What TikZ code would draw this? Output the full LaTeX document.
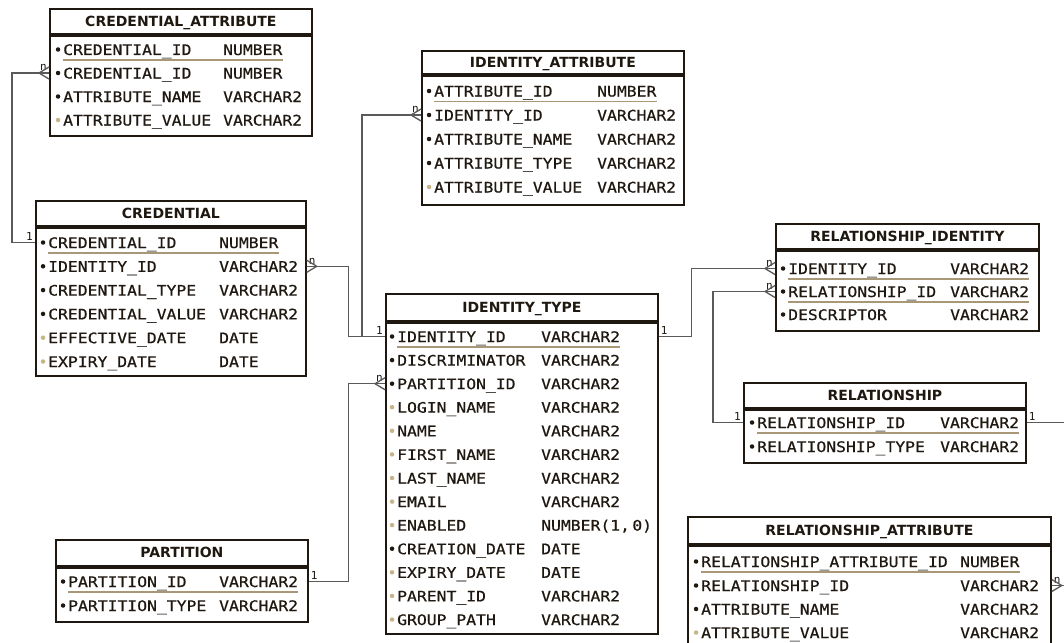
\documentclass[tikz,border=0pt]{standalone}
\usepackage{fontspec}
\newfontfamily\fieldfont[FakeStretch=1.13,FakeBold=0.6]{DejaVu Sans Mono}
\newfontfamily\cardfont{DejaVu Sans Mono}
\newfontfamily\titlefont{DejaVu Sans}
\usepackage{tikz}
\usetikzlibrary{positioning}

\definecolor{ink}{HTML}{1E1810}
\definecolor{pkline}{HTML}{A89878}
\definecolor{optdot}{HTML}{C8B488}
\definecolor{wire}{HTML}{5A5A5A}

\tikzset{
	ttl/.style={draw=ink, line width=1.8pt, fill=white, anchor=north west, minimum height=25pt,
		inner sep=0pt, text=ink, font=\titlefont\bfseries\fontsize{14}{14}\selectfont,
		text height=10pt, text depth=0pt},
	bdy/.style={draw=ink, line width=1.8pt, fill=white, inner sep=0pt},
	fld/.style={anchor=base west, inner sep=0pt, text height=11pt, text depth=0pt, text=ink,
		font=\fieldfont\fontsize{14.5}{14.5}\selectfont},
	fm/.style={fld, label={[circle, fill=ink, inner sep=0pt, minimum size=4.5pt, label distance=2.5pt]left:{}}},
	fo/.style={fld, label={[circle, fill=optdot, inner sep=0pt, minimum size=4.5pt, label distance=2.5pt]left:{}}},
	pk/.style={draw=pkline, line width=1.4pt},
	link/.style={draw=wire, line width=1.3pt},
	card/.style={inner sep=1.5pt, text=ink, font=\cardfont\fontsize{11}{11}\selectfont},
	crow/.pic={\draw [link] (-10,0) -- (0,-6) (-10,0) -- (0,6);}
}

\begin{document}
\begin{tikzpicture}[x=1pt,y=-1pt]
	\clip (0,0) rectangle (1064,642);
	\fill [white] (0,0) rectangle (1064,642);

	% CREDENTIAL_ATTRIBUTE
	\node [ttl, minimum width=262pt] (cattr) at (49,8) {CREDENTIAL\_ATTRIBUTE};
	\node [bdy, minimum width=262pt, minimum height=100pt, below=0pt of cattr] (cattr-b) {};
	\node [fm] (cattr-1) at (63,55) {\makebox[160pt][l]{CREDENTIAL\_ID}NUMBER};
	\node [fm] (cattr-2) at (63,78.5) {\makebox[160pt][l]{CREDENTIAL\_ID}NUMBER};
	\node [fm] (cattr-3) at (63,102) {\makebox[160pt][l]{ATTRIBUTE\_NAME}VARCHAR2};
	\node [fo] (cattr-4) at (63,125.5) {\makebox[160pt][l]{ATTRIBUTE\_VALUE}VARCHAR2};
	\draw [pk] ([yshift=-5pt]cattr-1.base west) -- ([yshift=-5pt]cattr-1.base east);

	% CREDENTIAL
	\node [ttl, minimum width=270pt] (cred) at (35,200) {CREDENTIAL};
	\node [bdy, minimum width=270pt, minimum height=148pt, below=0pt of cred] (cred-b) {};
	\node [fm] (cred-1) at (48,248) {\makebox[171pt][l]{CREDENTIAL\_ID}NUMBER};
	\node [fm] (cred-2) at (48,271.8) {\makebox[171pt][l]{IDENTITY\_ID}VARCHAR2};
	\node [fm] (cred-3) at (48,295.6) {\makebox[171pt][l]{CREDENTIAL\_TYPE}VARCHAR2};
	\node [fm] (cred-4) at (48,319.4) {\makebox[171pt][l]{CREDENTIAL\_VALUE}VARCHAR2};
	\node [fo] (cred-5) at (48,343.2) {\makebox[171pt][l]{EFFECTIVE\_DATE}DATE};
	\node [fo] (cred-6) at (48,367) {\makebox[171pt][l]{EXPIRY\_DATE}DATE};
	\draw [pk] ([yshift=-5pt]cred-1.base west) -- ([yshift=-5pt]cred-1.base east);

	% IDENTITY_ATTRIBUTE
	\node [ttl, minimum width=262pt, minimum height=23pt] (iattr) at (421,50) {IDENTITY\_ATTRIBUTE};
	\node [bdy, minimum width=262pt, minimum height=129pt, below=0pt of iattr] (iattr-b) {};
	\node [fm] (iattr-1) at (434,96.5) {\makebox[163pt][l]{ATTRIBUTE\_ID}NUMBER};
	\node [fm] (iattr-2) at (434,120.5) {\makebox[163pt][l]{IDENTITY\_ID}VARCHAR2};
	\node [fm] (iattr-3) at (434,144.5) {\makebox[163pt][l]{ATTRIBUTE\_NAME}VARCHAR2};
	\node [fm] (iattr-4) at (434,168.5) {\makebox[163pt][l]{ATTRIBUTE\_TYPE}VARCHAR2};
	\node [fo] (iattr-5) at (434,192.5) {\makebox[163pt][l]{ATTRIBUTE\_VALUE}VARCHAR2};
	\draw [pk] ([yshift=-5pt]iattr-1.base west) -- ([yshift=-5pt]iattr-1.base east);

	% IDENTITY_TYPE
	\node [ttl, minimum width=272pt, minimum height=27pt] (itype) at (385,293) {IDENTITY\_TYPE};
	\node [bdy, minimum width=272pt, minimum height=311pt, below=0pt of itype] (itype-b) {};
	\node [fm] (itype-1) at (397,342) {\makebox[144pt][l]{IDENTITY\_ID}VARCHAR2};
	\node [fm] (itype-2) at (397,365.6) {\makebox[144pt][l]{DISCRIMINATOR}VARCHAR2};
	\node [fm] (itype-3) at (397,389.2) {\makebox[144pt][l]{PARTITION\_ID}VARCHAR2};
	\node [fo] (itype-4) at (397,412.7) {\makebox[144pt][l]{LOGIN\_NAME}VARCHAR2};
	\node [fo] (itype-5) at (397,436.3) {\makebox[144pt][l]{NAME}VARCHAR2};
	\node [fo] (itype-6) at (397,459.9) {\makebox[144pt][l]{FIRST\_NAME}VARCHAR2};
	\node [fo] (itype-7) at (397,483.5) {\makebox[144pt][l]{LAST\_NAME}VARCHAR2};
	\node [fo] (itype-8) at (397,507.1) {\makebox[144pt][l]{EMAIL}VARCHAR2};
	\node [fo] (itype-9) at (397,530.6) {\makebox[144pt][l]{ENABLED}NUMBER(1,\,0)};
	\node [fm] (itype-10) at (397,554.2) {\makebox[144pt][l]{CREATION\_DATE}DATE};
	\node [fo] (itype-11) at (397,577.8) {\makebox[144pt][l]{EXPIRY\_DATE}DATE};
	\node [fo] (itype-12) at (397,601.4) {\makebox[144pt][l]{PARENT\_ID}VARCHAR2};
	\node [fo] (itype-13) at (397,625) {\makebox[144pt][l]{GROUP\_PATH}VARCHAR2};
	\draw [pk] ([yshift=-5pt]itype-1.base west) -- ([yshift=-5pt]itype-1.base east);

	% RELATIONSHIP_IDENTITY
	\node [ttl, minimum width=263pt] (rident) at (775,223) {RELATIONSHIP\_IDENTITY};
	\node [bdy, minimum width=263pt, minimum height=80pt, below=0pt of rident] (rident-b) {};
	\node [fm] (rident-1) at (788,274) {\makebox[162pt][l]{IDENTITY\_ID}VARCHAR2};
	\node [fm] (rident-2) at (788,297) {\makebox[162pt][l]{RELATIONSHIP\_ID}VARCHAR2};
	\node [fm] (rident-3) at (788,320) {\makebox[162pt][l]{DESCRIPTOR}VARCHAR2};
	\draw [pk] ([yshift=-5pt]rident-1.base west) -- ([yshift=-5pt]rident-1.base east);
	\draw [pk] ([yshift=-5pt]rident-2.base west) -- ([yshift=-5pt]rident-2.base east);

	% RELATIONSHIP
	\node [ttl, minimum width=282pt] (rship) at (743,382) {RELATIONSHIP};
	\node [bdy, minimum width=282pt, minimum height=53pt, below=0pt of rship] (rship-b) {};
	\node [fm] (rship-1) at (757,428) {\makebox[183pt][l]{RELATIONSHIP\_ID}VARCHAR2};
	\node [fm] (rship-2) at (757,452) {\makebox[183pt][l]{RELATIONSHIP\_TYPE}VARCHAR2};
	\draw [pk] ([yshift=-5pt]rship-1.base west) -- ([yshift=-5pt]rship-1.base east);

	% RELATIONSHIP_ATTRIBUTE
	\node [ttl, minimum width=363pt, minimum height=27pt] (rattr) at (687,516) {RELATIONSHIP\_ATTRIBUTE};
	\node [bdy, minimum width=363pt, minimum height=130pt, below=0pt of rattr] (rattr-b) {};
	\node [fm] (rattr-1) at (701,567) {\makebox[259pt][l]{RELATIONSHIP\_ATTRIBUTE\_ID}NUMBER};
	\node [fm] (rattr-2) at (701,591) {\makebox[259pt][l]{RELATIONSHIP\_ID}VARCHAR2};
	\node [fm] (rattr-3) at (701,614.5) {\makebox[259pt][l]{ATTRIBUTE\_NAME}VARCHAR2};
	\node [fo] (rattr-4) at (701,638) {\makebox[259pt][l]{ATTRIBUTE\_VALUE}VARCHAR2};
	\draw [pk] ([yshift=-5pt]rattr-1.base west) -- ([yshift=-5pt]rattr-1.base east);

	% PARTITION
	\node [ttl, minimum width=252pt, minimum height=26pt] (part) at (55,539) {PARTITION};
	\node [bdy, minimum width=252pt, minimum height=54pt, below=0pt of part] (part-b) {};
	\node [fm] (part-1) at (68,587) {\makebox[151pt][l]{PARTITION\_ID}VARCHAR2};
	\node [fm] (part-2) at (68,611) {\makebox[151pt][l]{PARTITION\_TYPE}VARCHAR2};
	\draw [pk] ([yshift=-5pt]part-1.base west) -- ([yshift=-5pt]part-1.base east);

	% relations
	\draw [link] (cred-b.west |- cred-1) node [card, above left] {1}
		-- ++(-23,0) |- (cattr-b.west |- cattr-2) node [card, above left] {n};
	\draw [link] (cred-b.east |- cred-2) node [card, above right] {n}
		-- ++(42,0) |- (itype-b.west |- itype-1) node [card, above left] {1};
	\draw [link] (itype-b.west |- itype-1) -- ++(-23,0) |- (iattr-b.west |- iattr-2) node [card, above left] {n};
	\draw [link] (part-b.east |- part-1) node [card, above right] {1}
		-- ++(40,0) |- (itype-b.west |- itype-3) node [card, above left] {n};
	\draw [link] (itype-b.east |- itype-1) node [card, above right] {1}
		-- ++(33,0) |- (rident-b.west |- rident-1) node [card, above left] {n};
	\draw [link] (rship-b.west |- rship-1) node [card, above left] {1}
		-- ++(-30,0) |- (rident-b.west |- rident-2) node [card, above left] {n};
	\draw [link] (rship-b.east |- rship-1) node [card, above right] {1}
		-- ++(50,0) |- (rattr-b.east |- rattr-2) node [card, above right] {n};

	% crow's feet
	\pic at (cattr-b.west |- cattr-2) {crow};
	\pic [xscale=-1] at (cred-b.east |- cred-2) {crow};
	\pic at (iattr-b.west |- iattr-2) {crow};
	\pic at (itype-b.west |- itype-3) {crow};
	\pic at (rident-b.west |- rident-1) {crow};
	\pic at (rident-b.west |- rident-2) {crow};
	\pic [xscale=-1] at (rattr-b.east |- rattr-2) {crow};
\end{tikzpicture}
\end{document}
